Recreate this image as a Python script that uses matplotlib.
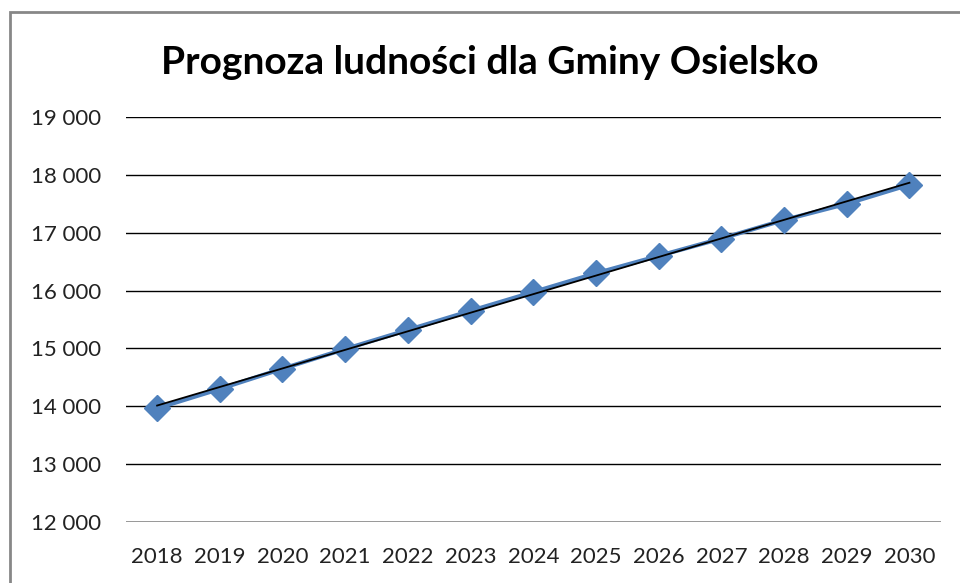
import numpy as np
import matplotlib
matplotlib.use('Agg')
import matplotlib.pyplot as plt
from matplotlib import rcParams
from matplotlib.ticker import FuncFormatter
from matplotlib.patches import Rectangle

rcParams['font.family'] = ['Lato', 'DejaVu Sans']

# dane
lata = ['2018', '2019', '2020', '2021', '2022', '2023', '2024',
        '2025', '2026', '2027', '2028', '2029', '2030']
ludnosc = [13965, 14300, 14650, 14990, 15320, 15650, 15975,
           16300, 16600, 16900, 17220, 17500, 17830]
y_ticks = [12000, 13000, 14000, 15000, 16000, 17000, 18000, 19000]

fig = plt.figure(figsize=(9.6, 5.83), dpi=100)
ax = fig.add_axes([0.131, 0.1046, 0.849, 0.6947])

x = np.arange(len(lata))
ax.plot(x, ludnosc, color='#4F81BD', lw=3, marker='D', markersize=13,
        markerfacecolor='#4F81BD', markeredgecolor='#4F81BD', zorder=3)

# linia trendu (liniowa)
a, b = np.polyfit(x, ludnosc, 1)
ax.plot(x, a * x + b, color='black', lw=1.3, zorder=4)

ax.set_xlim(-0.5, len(lata) - 0.5)
ax.set_ylim(12000, 19000)
ax.set_yticks(y_ticks)
ax.yaxis.set_major_formatter(FuncFormatter(lambda v, p: '{:,.0f}'.format(v).replace(',', ' ')))
ax.set_xticks(x)
ax.set_xticklabels(lata)
for t in y_ticks[1:]:
    ax.axhline(t, color='black', lw=1, zorder=1)
ax.axhline(12000, color='#868686', lw=1.2, zorder=1)

for s in ax.spines.values():
    s.set_visible(False)
ax.tick_params(length=0, colors='#222222')
ax.tick_params(axis='y', labelsize=16, pad=18)
ax.tick_params(axis='x', labelsize=16, pad=18)

fig.text(0.51, 0.892, 'Prognoza ludności dla Gminy Osielsko', ha='center', va='center',
         fontsize=28, fontweight='bold')

# ramka wykresu
fig.patches.append(Rectangle((10 / 960, -0.05), 1.0, 1 - 12 / 583 + 0.05,
                             transform=fig.transFigure, fill=False,
                             edgecolor='#878787', lw=2))

fig.savefig('out.png', dpi=100)
